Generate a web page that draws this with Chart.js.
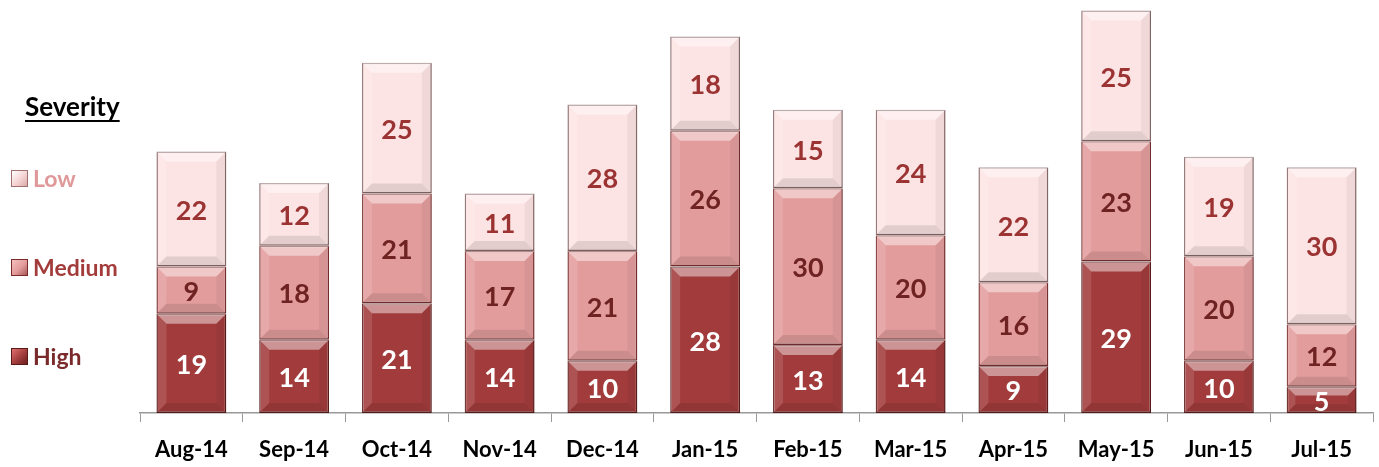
<!DOCTYPE html>
<html><head><meta charset="utf-8">
<script src="https://cdn.jsdelivr.net/npm/chart.js@4/dist/chart.umd.min.js"></script>
<style>
html,body{margin:0;padding:0;background:#fff;}
#wrap{position:relative;width:1379px;height:467px;}
#legend{position:absolute;left:0;top:0;width:140px;height:467px;font-family:Lato,"Open Sans",sans-serif;font-weight:bold;}
#legend .title{position:absolute;left:25px;top:91px;font-size:26px;line-height:30px;color:#000;text-decoration:underline;text-decoration-thickness:2px;text-underline-offset:4px;}
#legend .item{position:absolute;left:11px;font-size:23px;line-height:26px;display:flex;align-items:center;}
#legend .sw{width:17px;height:17px;margin-right:5px;box-sizing:border-box;border:1px solid #6a2a2a;}
</style></head><body>
<div id="wrap">
<canvas id="c" width="1379" height="467"></canvas>
<div id="legend">
 <div class="title">Severity</div>
 <div class="item" style="top:165px;color:#e0999a"><span class="sw" style="background:linear-gradient(135deg,#fff 0%,#f3cfcf 60%,#d9a9a9 100%);border-color:#a07070"></span>Low</div>
 <div class="item" style="top:254px;color:#a33b3b"><span class="sw" style="background:linear-gradient(135deg,#f6c0c0 0%,#e39a9a 55%,#a85a5a 100%);border-color:#7a2a2a"></span>Medium</div>
 <div class="item" style="top:343px;color:#7a2a2a"><span class="sw" style="background:linear-gradient(135deg,#e07070 0%,#a23c3c 55%,#6a1e1e 100%);border-color:#5a1a1a"></span>High</div>
</div>
</div>
<script>
const categories = ["Aug-14","Sep-14","Oct-14","Nov-14","Dec-14","Jan-15","Feb-15","Mar-15","Apr-15","May-15","Jun-15","Jul-15"];
const highValues   = [19,14,21,14,10,28,13,14,9,29,10,5];
const mediumValues = [9,18,21,17,21,26,30,20,16,23,20,12];
const lowValues    = [22,12,25,11,28,18,15,24,22,25,19,30];

const labelColors = ["#ffffff","#6e2222","#9b3333"];
const FONT = 'Lato,"Open Sans",sans-serif';

const labelPlugin = {
  id:'barLabels',
  afterDatasetsDraw(chart){
    const ctx = chart.ctx;
    chart.data.datasets.forEach((ds,di)=>{
      const meta = chart.getDatasetMeta(di);
      meta.data.forEach((bar,i)=>{
        const top = Math.min(bar.y,bar.base), bot = Math.max(bar.y,bar.base);
        const cx = bar.x, cy = (top+bot)/2;
        ctx.save();
        ctx.font = 'bold 27px ' + FONT;
        ctx.fillStyle = labelColors[di];
        ctx.textAlign='center'; ctx.textBaseline='middle';
        ctx.fillText(String(ds.data[i]), cx, cy+2);
        ctx.restore();
      });
    });
  }
};

const bevelPlugin = {
  id:'bevel',
  afterDatasetsDraw(chart){
    const ctx = chart.ctx;
    chart.data.datasets.forEach((ds,di)=>{
      const meta = chart.getDatasetMeta(di);
      meta.data.forEach((bar)=>{
        const top = Math.min(bar.y,bar.base), bot = Math.max(bar.y,bar.base);
        const l = bar.x - bar.width/2, r = bar.x + bar.width/2;
        const b = Math.min(10,(bot-top)/3);
        ctx.save();
        ctx.fillStyle='rgba(255,255,255,0.45)';
        ctx.beginPath(); ctx.moveTo(l,top); ctx.lineTo(r,top); ctx.lineTo(r-b,top+b); ctx.lineTo(l+b,top+b); ctx.closePath(); ctx.fill();
        ctx.fillStyle='rgba(0,0,0,0.10)';
        ctx.beginPath(); ctx.moveTo(l,bot); ctx.lineTo(r,bot); ctx.lineTo(r-b,bot-b); ctx.lineTo(l+b,bot-b); ctx.closePath(); ctx.fill();
        ctx.fillStyle='rgba(0,0,0,0.05)';
        ctx.beginPath(); ctx.moveTo(r,top); ctx.lineTo(r,bot); ctx.lineTo(r-b,bot-b); ctx.lineTo(r-b,top+b); ctx.closePath(); ctx.fill();
        ctx.fillStyle='rgba(255,255,255,0.12)';
        ctx.beginPath(); ctx.moveTo(l,top); ctx.lineTo(l,bot); ctx.lineTo(l+b,bot-b); ctx.lineTo(l+b,top+b); ctx.closePath(); ctx.fill();
        ctx.restore();
      });
    });
  }
};

new Chart(document.getElementById('c'),{
  type:'bar',
  data:{
    labels:categories,
    datasets:[
      {label:'High',data:highValues,backgroundColor:'#a23c3c',borderColor:'#5e1c1c',borderWidth:1.5,borderSkipped:false},
      {label:'Medium',data:mediumValues,backgroundColor:'#e39c9c',borderColor:'#7a3030',borderWidth:1.5,borderSkipped:false},
      {label:'Low',data:lowValues,backgroundColor:'#fde4e4',borderColor:'#8a6a6a',borderWidth:1.5,borderSkipped:false}
    ]
  },
  options:{
    responsive:false,animation:false,
    layout:{padding:{left:140,right:6,top:0,bottom:0}},
    plugins:{legend:{display:false},tooltip:{enabled:false}},
    datasets:{bar:{categoryPercentage:1,barPercentage:0.68}},
    scales:{
      x:{stacked:true,
        afterFit(scale){ scale.height = 54; },
        grid:{display:true,offset:true,drawOnChartArea:false,drawTicks:true,tickLength:9,color:'#999'},
        border:{display:true,color:'#999',width:1.5},
        ticks:{color:'#000',font:{family:FONT,weight:'bold',size:22,lineHeight:1.2},padding:15,maxRotation:0}
      },
      y:{stacked:true,display:false,min:0,max:79}
    }
  },
  plugins:[bevelPlugin,labelPlugin]
});
</script>
</body></html>
